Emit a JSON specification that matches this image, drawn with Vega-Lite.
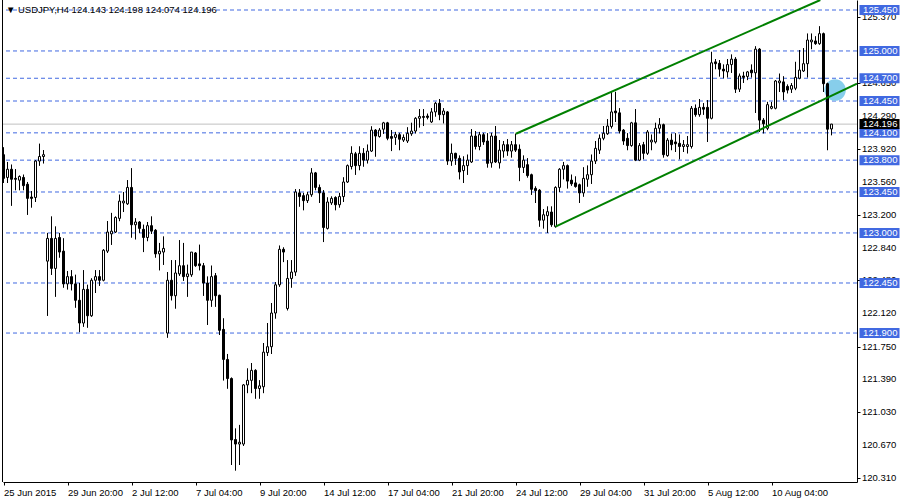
{
  "$schema": "https://vega.github.io/schema/vega-lite/v6.json",
  "width": 854,
  "height": 482,
  "autosize": {"type": "none"},
  "padding": {"left": 3, "top": 0, "right": 43, "bottom": 18},
  "background": "white",
  "config": {
    "view": {"stroke": null},
    "scale": {"continuousPadding": 0},
    "axis": {
      "labelFont": "Liberation Sans", "labelFontSize": 9.5, "labelColor": "black",
      "tickColor": "black", "domainColor": "black", "domainWidth": 1, "tickWidth": 1,
      "grid": false, "title": null, "labelOverlap": false, "labelFlush": false
    }
  },
  "datasets": {
    "candles": [
      {"bar":0,"open":123.86,"high":123.94,"low":123.55,"close":123.60},
      {"bar":1,"open":123.61,"high":123.78,"low":123.55,"close":123.70},
      {"bar":2,"open":123.70,"high":123.75,"low":123.30,"close":123.59},
      {"bar":3,"open":123.60,"high":123.70,"low":123.47,"close":123.59},
      {"bar":4,"open":123.58,"high":123.63,"low":123.47,"close":123.62},
      {"bar":5,"open":123.61,"high":123.64,"low":123.47,"close":123.52},
      {"bar":6,"open":123.535,"high":123.56,"low":123.20,"close":123.38},
      {"bar":7,"open":123.395,"high":123.46,"low":123.28,"close":123.38},
      {"bar":8,"open":123.39,"high":123.80,"low":123.34,"close":123.79},
      {"bar":9,"open":123.79,"high":123.98,"low":123.74,"close":123.84},
      {"bar":10,"open":123.84,"high":123.91,"low":123.765,"close":123.86},
      {"bar":11,"open":122.69,"high":123.00,"low":122.09,"close":122.94},
      {"bar":12,"open":122.94,"high":123.18,"low":122.54,"close":122.61},
      {"bar":13,"open":122.61,"high":123.07,"low":122.30,"close":122.94},
      {"bar":14,"open":122.95,"high":123.00,"low":122.73,"close":122.79},
      {"bar":15,"open":122.80,"high":122.94,"low":122.40,"close":122.44},
      {"bar":16,"open":122.44,"high":122.58,"low":122.38,"close":122.52},
      {"bar":17,"open":122.52,"high":122.59,"low":122.37,"close":122.44},
      {"bar":18,"open":122.44,"high":122.54,"low":122.18,"close":122.26},
      {"bar":19,"open":122.26,"high":122.45,"low":121.91,"close":122.01},
      {"bar":20,"open":122.01,"high":122.59,"low":121.97,"close":122.38},
      {"bar":21,"open":122.38,"high":122.43,"low":121.96,"close":122.09},
      {"bar":22,"open":122.09,"high":122.50,"low":122.08,"close":122.48},
      {"bar":23,"open":122.48,"high":122.59,"low":122.34,"close":122.52},
      {"bar":24,"open":122.52,"high":122.59,"low":122.42,"close":122.48},
      {"bar":25,"open":122.48,"high":122.82,"low":122.47,"close":122.81},
      {"bar":26,"open":122.80,"high":123.13,"low":122.78,"close":123.01},
      {"bar":27,"open":122.99,"high":123.22,"low":122.87,"close":123.02},
      {"bar":28,"open":123.01,"high":123.18,"low":123.00,"close":123.17},
      {"bar":29,"open":123.16,"high":123.42,"low":123.13,"close":123.35},
      {"bar":30,"open":123.33,"high":123.45,"low":123.23,"close":123.35},
      {"bar":31,"open":123.32,"high":123.58,"low":123.31,"close":123.50},
      {"bar":32,"open":123.50,"high":123.71,"low":122.95,"close":123.09},
      {"bar":33,"open":123.09,"high":123.16,"low":122.93,"close":123.12},
      {"bar":34,"open":123.12,"high":123.13,"low":123.00,"close":123.05},
      {"bar":35,"open":123.04,"high":123.09,"low":122.79,"close":122.95},
      {"bar":36,"open":122.95,"high":123.12,"low":122.91,"close":123.08},
      {"bar":37,"open":123.08,"high":123.18,"low":122.99,"close":123.02},
      {"bar":38,"open":123.03,"high":123.04,"low":122.73,"close":122.77},
      {"bar":39,"open":122.77,"high":122.89,"low":122.59,"close":122.80},
      {"bar":40,"open":122.79,"high":122.96,"low":122.65,"close":122.83},
      {"bar":41,"open":121.90,"high":122.57,"low":121.85,"close":122.48},
      {"bar":42,"open":122.48,"high":122.70,"low":122.26,"close":122.31},
      {"bar":43,"open":122.31,"high":122.70,"low":122.17,"close":122.56},
      {"bar":44,"open":122.55,"high":122.92,"low":122.53,"close":122.64},
      {"bar":45,"open":122.64,"high":122.89,"low":122.475,"close":122.52},
      {"bar":46,"open":122.52,"high":122.65,"low":122.30,"close":122.55},
      {"bar":47,"open":122.54,"high":122.79,"low":122.52,"close":122.79},
      {"bar":48,"open":122.78,"high":122.79,"low":122.63,"close":122.64},
      {"bar":49,"open":122.66,"high":122.87,"low":122.59,"close":122.64},
      {"bar":50,"open":122.64,"high":122.67,"low":122.31,"close":122.45},
      {"bar":51,"open":122.45,"high":122.52,"low":121.99,"close":122.26},
      {"bar":52,"open":122.26,"high":122.64,"low":122.19,"close":122.52},
      {"bar":53,"open":122.53,"high":122.56,"low":122.19,"close":122.31},
      {"bar":54,"open":122.315,"high":122.32,"low":121.88,"close":121.93},
      {"bar":55,"open":121.94,"high":122.06,"low":121.38,"close":121.61},
      {"bar":56,"open":121.61,"high":121.67,"low":121.29,"close":121.40},
      {"bar":57,"open":121.40,"high":121.41,"low":120.45,"close":120.725},
      {"bar":58,"open":120.73,"high":120.85,"low":120.39,"close":120.68},
      {"bar":59,"open":120.68,"high":120.89,"low":120.45,"close":120.70},
      {"bar":60,"open":120.68,"high":121.34,"low":120.66,"close":121.33},
      {"bar":61,"open":121.33,"high":121.51,"low":121.24,"close":121.38},
      {"bar":62,"open":121.38,"high":121.57,"low":121.24,"close":121.49},
      {"bar":63,"open":121.49,"high":121.50,"low":121.18,"close":121.29},
      {"bar":64,"open":121.29,"high":121.38,"low":121.18,"close":121.32},
      {"bar":65,"open":121.31,"high":121.79,"low":121.24,"close":121.69},
      {"bar":66,"open":121.685,"high":122.01,"low":121.65,"close":121.75},
      {"bar":67,"open":121.75,"high":122.23,"low":121.67,"close":122.12},
      {"bar":68,"open":122.12,"high":122.46,"low":122.06,"close":122.43},
      {"bar":69,"open":122.43,"high":122.86,"low":122.41,"close":122.82},
      {"bar":70,"open":122.82,"high":122.84,"low":122.68,"close":122.79},
      {"bar":71,"open":122.17,"high":122.70,"low":122.15,"close":122.50},
      {"bar":72,"open":122.50,"high":122.70,"low":122.40,"close":122.57},
      {"bar":73,"open":122.57,"high":123.48,"low":122.53,"close":123.45},
      {"bar":74,"open":123.44,"high":123.48,"low":123.29,"close":123.40},
      {"bar":75,"open":123.41,"high":123.44,"low":123.25,"close":123.355},
      {"bar":76,"open":123.355,"high":123.45,"low":123.33,"close":123.42},
      {"bar":77,"open":123.42,"high":123.71,"low":123.40,"close":123.66},
      {"bar":78,"open":123.66,"high":123.67,"low":123.47,"close":123.50},
      {"bar":79,"open":123.50,"high":123.53,"low":123.33,"close":123.44},
      {"bar":80,"open":123.44,"high":123.47,"low":122.90,"close":123.06},
      {"bar":81,"open":123.05,"high":123.39,"low":123.04,"close":123.34},
      {"bar":82,"open":123.33,"high":123.40,"low":123.31,"close":123.38},
      {"bar":83,"open":123.39,"high":123.40,"low":123.25,"close":123.31},
      {"bar":84,"open":123.31,"high":123.44,"low":123.28,"close":123.40},
      {"bar":85,"open":123.40,"high":123.61,"low":123.34,"close":123.56},
      {"bar":86,"open":123.56,"high":123.75,"low":123.55,"close":123.74},
      {"bar":87,"open":123.73,"high":123.95,"low":123.70,"close":123.875},
      {"bar":88,"open":123.87,"high":123.89,"low":123.64,"close":123.74},
      {"bar":89,"open":123.74,"high":123.95,"low":123.69,"close":123.875},
      {"bar":90,"open":123.875,"high":123.93,"low":123.73,"close":123.80},
      {"bar":91,"open":123.80,"high":123.97,"low":123.765,"close":123.90},
      {"bar":92,"open":123.90,"high":124.17,"low":123.89,"close":124.13},
      {"bar":93,"open":124.13,"high":124.14,"low":123.84,"close":124.065},
      {"bar":94,"open":124.06,"high":124.15,"low":124.05,"close":124.13},
      {"bar":95,"open":124.14,"high":124.22,"low":124.09,"close":124.21},
      {"bar":96,"open":124.21,"high":124.22,"low":124.02,"close":124.04},
      {"bar":97,"open":124.06,"high":124.13,"low":123.90,"close":124.04},
      {"bar":98,"open":124.05,"high":124.11,"low":123.97,"close":124.08},
      {"bar":99,"open":124.08,"high":124.10,"low":123.91,"close":124.03},
      {"bar":100,"open":124.02,"high":124.08,"low":124.00,"close":124.05},
      {"bar":101,"open":124.01,"high":124.16,"low":123.99,"close":124.095},
      {"bar":102,"open":124.09,"high":124.21,"low":124.07,"close":124.12},
      {"bar":103,"open":124.12,"high":124.27,"low":124.095,"close":124.26},
      {"bar":104,"open":124.26,"high":124.36,"low":124.16,"close":124.28},
      {"bar":105,"open":124.28,"high":124.36,"low":124.175,"close":124.27},
      {"bar":106,"open":124.285,"high":124.31,"low":124.25,"close":124.27},
      {"bar":107,"open":124.22,"high":124.37,"low":124.21,"close":124.33},
      {"bar":108,"open":124.33,"high":124.44,"low":124.28,"close":124.425},
      {"bar":109,"open":124.425,"high":124.47,"low":124.24,"close":124.30},
      {"bar":110,"open":124.30,"high":124.37,"low":124.205,"close":124.34},
      {"bar":111,"open":124.33,"high":124.34,"low":123.75,"close":123.79},
      {"bar":112,"open":123.79,"high":123.98,"low":123.74,"close":123.875},
      {"bar":113,"open":123.875,"high":123.88,"low":123.75,"close":123.82},
      {"bar":114,"open":123.82,"high":123.85,"low":123.59,"close":123.67},
      {"bar":115,"open":123.685,"high":123.84,"low":123.55,"close":123.74},
      {"bar":116,"open":123.74,"high":123.86,"low":123.64,"close":123.80},
      {"bar":117,"open":123.78,"high":124.14,"low":123.77,"close":124.065},
      {"bar":118,"open":124.065,"high":124.12,"low":123.92,"close":123.95},
      {"bar":119,"open":123.95,"high":124.11,"low":123.91,"close":124.08},
      {"bar":120,"open":124.08,"high":124.10,"low":123.97,"close":124.00},
      {"bar":121,"open":124.01,"high":124.095,"low":123.72,"close":123.765},
      {"bar":122,"open":123.77,"high":124.10,"low":123.72,"close":124.065},
      {"bar":123,"open":124.065,"high":124.175,"low":123.77,"close":123.78},
      {"bar":124,"open":123.77,"high":124.02,"low":123.71,"close":123.91},
      {"bar":125,"open":123.90,"high":124.01,"low":123.83,"close":123.97},
      {"bar":126,"open":123.97,"high":124.03,"low":123.85,"close":123.90},
      {"bar":127,"open":123.90,"high":124.01,"low":123.83,"close":123.97},
      {"bar":128,"open":123.97,"high":124.09,"low":123.89,"close":123.91},
      {"bar":129,"open":123.92,"high":123.97,"low":123.57,"close":123.72},
      {"bar":130,"open":123.72,"high":123.85,"low":123.66,"close":123.80},
      {"bar":131,"open":123.75,"high":123.82,"low":123.61,"close":123.63},
      {"bar":132,"open":123.64,"high":123.65,"low":123.42,"close":123.48},
      {"bar":133,"open":123.49,"high":123.51,"low":123.33,"close":123.465},
      {"bar":134,"open":123.47,"high":123.48,"low":123.07,"close":123.14},
      {"bar":135,"open":123.14,"high":123.26,"low":123.05,"close":123.20},
      {"bar":136,"open":123.19,"high":123.29,"low":123.00,"close":123.234},
      {"bar":137,"open":123.23,"high":123.29,"low":123.07,"close":123.09},
      {"bar":138,"open":123.07,"high":123.51,"low":123.06,"close":123.50},
      {"bar":139,"open":123.50,"high":123.71,"low":123.45,"close":123.70},
      {"bar":140,"open":123.70,"high":123.78,"low":123.59,"close":123.74},
      {"bar":141,"open":123.74,"high":123.75,"low":123.49,"close":123.57},
      {"bar":142,"open":123.58,"high":123.64,"low":123.52,"close":123.54},
      {"bar":143,"open":123.55,"high":123.62,"low":123.50,"close":123.51},
      {"bar":144,"open":123.53,"high":123.54,"low":123.33,"close":123.44},
      {"bar":145,"open":123.44,"high":123.72,"low":123.40,"close":123.60},
      {"bar":146,"open":123.59,"high":123.74,"low":123.51,"close":123.64},
      {"bar":147,"open":123.64,"high":123.86,"low":123.54,"close":123.79},
      {"bar":148,"open":123.79,"high":124.01,"low":123.76,"close":123.93},
      {"bar":149,"open":123.91,"high":124.08,"low":123.87,"close":124.04},
      {"bar":150,"open":124.04,"high":124.175,"low":124.02,"close":124.095},
      {"bar":151,"open":124.09,"high":124.25,"low":124.08,"close":124.175},
      {"bar":152,"open":124.17,"high":124.55,"low":124.15,"close":124.33},
      {"bar":153,"open":124.34,"high":124.55,"low":124.22,"close":124.32},
      {"bar":154,"open":124.32,"high":124.37,"low":124.095,"close":124.12},
      {"bar":155,"open":124.13,"high":124.14,"low":123.97,"close":124.01},
      {"bar":156,"open":124.04,"high":124.095,"low":123.91,"close":123.96},
      {"bar":157,"open":123.96,"high":124.22,"low":123.95,"close":124.21},
      {"bar":158,"open":124.21,"high":124.36,"low":123.79,"close":123.80},
      {"bar":159,"open":123.80,"high":123.985,"low":123.79,"close":123.96},
      {"bar":160,"open":123.97,"high":124.00,"low":123.81,"close":123.875},
      {"bar":161,"open":123.875,"high":124.13,"low":123.86,"close":124.11},
      {"bar":162,"open":124.00,"high":124.08,"low":123.91,"close":124.02},
      {"bar":163,"open":124.00,"high":124.21,"low":123.985,"close":124.15},
      {"bar":164,"open":124.15,"high":124.26,"low":124.095,"close":124.19},
      {"bar":165,"open":124.19,"high":124.20,"low":123.83,"close":123.86},
      {"bar":166,"open":123.85,"high":124.04,"low":123.84,"close":124.02},
      {"bar":167,"open":124.02,"high":124.09,"low":123.91,"close":123.97},
      {"bar":168,"open":124.00,"high":124.095,"low":123.89,"close":123.98},
      {"bar":169,"open":123.985,"high":124.08,"low":123.81,"close":123.95},
      {"bar":170,"open":123.95,"high":124.02,"low":123.89,"close":123.97},
      {"bar":171,"open":123.95,"high":124.065,"low":123.875,"close":123.97},
      {"bar":172,"open":123.95,"high":124.395,"low":123.93,"close":124.37},
      {"bar":173,"open":124.37,"high":124.41,"low":124.28,"close":124.30},
      {"bar":174,"open":124.30,"high":124.47,"low":124.28,"close":124.38},
      {"bar":175,"open":124.38,"high":124.425,"low":124.30,"close":124.36},
      {"bar":176,"open":124.38,"high":124.46,"low":124.00,"close":124.26},
      {"bar":177,"open":124.26,"high":124.99,"low":124.25,"close":124.87},
      {"bar":178,"open":124.88,"high":124.91,"low":124.80,"close":124.86},
      {"bar":179,"open":124.864,"high":124.90,"low":124.72,"close":124.80},
      {"bar":180,"open":124.80,"high":124.85,"low":124.70,"close":124.78},
      {"bar":181,"open":124.77,"high":124.91,"low":124.71,"close":124.85},
      {"bar":182,"open":124.85,"high":124.96,"low":124.76,"close":124.91},
      {"bar":183,"open":124.91,"high":124.93,"low":124.54,"close":124.58},
      {"bar":184,"open":124.58,"high":124.75,"low":124.55,"close":124.725},
      {"bar":185,"open":124.725,"high":124.77,"low":124.65,"close":124.71},
      {"bar":186,"open":124.72,"high":124.78,"low":124.68,"close":124.77},
      {"bar":187,"open":124.79,"high":124.85,"low":124.71,"close":124.76},
      {"bar":188,"open":124.76,"high":125.05,"low":124.32,"close":125.02},
      {"bar":189,"open":125.02,"high":125.03,"low":124.11,"close":124.24},
      {"bar":190,"open":124.24,"high":124.26,"low":124.095,"close":124.20},
      {"bar":191,"open":124.15,"high":124.44,"low":124.13,"close":124.41},
      {"bar":192,"open":124.37,"high":124.44,"low":124.36,"close":124.39},
      {"bar":193,"open":124.37,"high":124.68,"low":124.36,"close":124.67},
      {"bar":194,"open":124.65,"high":124.75,"low":124.55,"close":124.67},
      {"bar":195,"open":124.66,"high":124.72,"low":124.46,"close":124.55},
      {"bar":196,"open":124.61,"high":124.63,"low":124.535,"close":124.57},
      {"bar":197,"open":124.58,"high":124.645,"low":124.54,"close":124.62},
      {"bar":198,"open":124.59,"high":124.88,"low":124.57,"close":124.71},
      {"bar":199,"open":124.70,"high":125.01,"low":124.69,"close":124.79},
      {"bar":200,"open":124.78,"high":125.03,"low":124.77,"close":124.86},
      {"bar":201,"open":124.86,"high":125.19,"low":124.71,"close":125.12},
      {"bar":202,"open":125.10,"high":125.19,"low":125.02,"close":125.12},
      {"bar":203,"open":125.11,"high":125.16,"low":125.07,"close":125.08},
      {"bar":204,"open":125.08,"high":125.27,"low":125.07,"close":125.19},
      {"bar":205,"open":125.19,"high":125.20,"low":124.55,"close":124.64},
      {"bar":206,"open":124.64,"high":124.65,"low":123.91,"close":124.14},
      {"bar":207,"open":124.143,"high":124.198,"low":124.074,"close":124.196}
    ],
    "ticks": [
      {"price":120.31,"label":"120.310"},
      {"price":120.67,"label":"120.670"},
      {"price":121.03,"label":"121.030"},
      {"price":121.39,"label":"121.390"},
      {"price":121.75,"label":"121.750"},
      {"price":122.12,"label":"122.120"},
      {"price":122.48,"label":"122.480"},
      {"price":122.84,"label":"122.840"},
      {"price":123.2,"label":"123.200"},
      {"price":123.56,"label":"123.560"},
      {"price":123.92,"label":"123.920"},
      {"price":124.29,"label":"124.290"},
      {"price":124.65,"label":"124.650"},
      {"price":125.01,"label":"125.010"},
      {"price":125.37,"label":"125.370"}
    ],
    "levels": [
      {"level":125.45,"label":"125.450"},
      {"level":125.0,"label":"125.000"},
      {"level":124.7,"label":"124.700"},
      {"level":124.45,"label":"124.450"},
      {"level":124.1,"label":"124.100"},
      {"level":123.8,"label":"123.800"},
      {"level":123.45,"label":"123.450"},
      {"level":123.0,"label":"123.000"},
      {"level":122.45,"label":"122.450"},
      {"level":121.9,"label":"121.900"}
    ],
    "current": [{"level":124.196,"label":"124.196"}],
    "channel": [
      {"line":"upper","bar":128.1,"price":124.09},
      {"line":"upper","bar":204.2,"price":125.56},
      {"line":"lower","bar":138.0,"price":123.07},
      {"line":"lower","bar":213.375,"price":124.64}
    ],
    "marker": [{"bar":207.9,"price":124.57}],
    "header": [{"text":"▼ USDJPY,H4  124.143 124.198 124.074 124.196"}]
  },
  "layer": [
    {
      "data": {"name": "candles"},
      "mark": {"type": "rule", "color": "black", "strokeWidth": 1},
      "encoding": {
        "x": {
          "field": "bar", "type": "quantitative",
          "scale": {"domain": [-0.125, 213.375], "nice": false, "zero": false, "padding": 0},
          "axis": {
            "title": null, "orient": "bottom", "zindex": 0,
            "values": [0, 16, 32, 48, 64, 80, 96, 112, 128, 144, 160, 176, 192],
            "labelExpr": "['25 Jun 2015','29 Jun 20:00','2 Jul 12:00','7 Jul 04:00','9 Jul 20:00','14 Jul 12:00','17 Jul 04:00','21 Jul 20:00','24 Jul 12:00','29 Jul 04:00','31 Jul 20:00','5 Aug 12:00','10 Aug 04:00'][round(datum.value / 16)]",
            "labelAlign": "left", "labelBaseline": "top", "labelPadding": 2,
            "labelOverlap": false, "labelFlush": false, "labelBound": false,
            "tickSize": 3
          }
        },
        "y": {
          "field": "low", "type": "quantitative",
          "scale": {"domain": [120.263, 125.56], "nice": false, "zero": false, "padding": 0},
          "axis": {
            "title": null, "orient": "right", "zindex": 0,
            "values": [120.31, 120.67, 121.03, 121.39, 121.75, 122.12, 122.48, 122.84, 123.2, 123.56, 123.92, 124.29, 124.65, 125.01, 125.37],
            "labels": false,
            "tickSize": 3
          }
        },
        "y2": {"field": "high"}
      }
    },
    {
      "data": {"name": "levels"},
      "mark": {"type": "rule", "color": "#4169E1", "strokeWidth": 1, "strokeDash": [4, 3]},
      "encoding": {
        "y": {"field": "level", "type": "quantitative", "axis": {"title": null}}
      }
    },
    {
      "data": {"name": "current"},
      "mark": {"type": "rule", "color": "#C0C0C0", "strokeWidth": 1},
      "encoding": {
        "y": {"field": "level", "type": "quantitative", "axis": {"title": null}}
      }
    },
    {
      "data": {"name": "marker"},
      "mark": {"type": "point", "shape": "circle", "filled": true, "size": 460, "color": "#87CEEB", "opacity": 1, "strokeWidth": 0},
      "encoding": {
        "x": {"field": "bar", "type": "quantitative", "axis": {"title": null}},
        "y": {"field": "price", "type": "quantitative", "axis": {"title": null}}
      }
    },
    {
      "data": {"name": "candles"},
      "mark": {"type": "rule", "color": "black", "strokeWidth": 1},
      "encoding": {
        "x": {"field": "bar", "type": "quantitative", "axis": {"title": null}},
        "y": {"field": "low", "type": "quantitative", "axis": {"title": null}},
        "y2": {"field": "high"}
      }
    },
    {
      "data": {"name": "candles"},
      "mark": {"type": "bar", "width": 2, "stroke": "black", "strokeWidth": 1},
      "encoding": {
        "x": {"field": "bar", "type": "quantitative", "axis": {"title": null}},
        "y": {"field": "open", "type": "quantitative", "axis": {"title": null}},
        "y2": {"field": "close"},
        "fill": {"condition": {"test": "datum.close >= datum.open", "value": "white"}, "value": "black"}
      }
    },
    {
      "data": {"name": "channel"},
      "mark": {"type": "line", "color": "#008000", "strokeWidth": 2, "clip": true},
      "encoding": {
        "x": {"field": "bar", "type": "quantitative", "axis": {"title": null}},
        "y": {"field": "price", "type": "quantitative", "axis": {"title": null}},
        "detail": {"field": "line"}
      }
    },
    {
      "data": {"values": [{}]},
      "mark": {"type": "rule", "color": "black", "strokeWidth": 1, "clip": false},
      "encoding": {
        "x": {"datum": -0.25, "type": "quantitative", "axis": {"title": null}}
      }
    },
    {
      "data": {"name": "ticks"},
      "mark": {"type": "text", "align": "left", "baseline": "middle", "color": "black", "font": "Liberation Sans", "fontSize": 9.5, "clip": false},
      "encoding": {
        "x": {"datum": 214.625, "type": "quantitative", "axis": {"title": null}},
        "y": {"field": "price", "type": "quantitative", "axis": {"title": null}},
        "text": {"field": "label"}
      }
    },
    {
      "data": {"name": "levels"},
      "mark": {"type": "point", "shape": "M-1,-0.25L1,-0.25L1,0.25L-1,0.25Z", "filled": true, "size": 1600, "color": "#4169E1", "opacity": 1, "strokeWidth": 0, "clip": false},
      "encoding": {
        "x": {"datum": 219.0, "type": "quantitative", "axis": {"title": null}},
        "y": {"field": "level", "type": "quantitative", "axis": {"title": null}}
      }
    },
    {
      "data": {"name": "current"},
      "mark": {"type": "point", "shape": "M-1,-0.25L1,-0.25L1,0.25L-1,0.25Z", "filled": true, "size": 1600, "color": "black", "opacity": 1, "strokeWidth": 0, "clip": false},
      "encoding": {
        "x": {"datum": 219.0, "type": "quantitative", "axis": {"title": null}},
        "y": {"field": "level", "type": "quantitative", "axis": {"title": null}}
      }
    },
    {
      "data": {"name": "levels"},
      "mark": {"type": "text", "align": "left", "baseline": "middle", "color": "white", "font": "Liberation Sans", "fontSize": 9.5, "clip": false},
      "encoding": {
        "x": {"datum": 214.9, "type": "quantitative", "axis": {"title": null}},
        "y": {"field": "level", "type": "quantitative", "axis": {"title": null}},
        "text": {"field": "label"}
      }
    },
    {
      "data": {"name": "current"},
      "mark": {"type": "text", "align": "left", "baseline": "middle", "color": "white", "font": "Liberation Sans", "fontSize": 9.5, "clip": false},
      "encoding": {
        "x": {"datum": 214.9, "type": "quantitative", "axis": {"title": null}},
        "y": {"field": "level", "type": "quantitative", "axis": {"title": null}},
        "text": {"field": "label"}
      }
    },
    {
      "data": {"name": "header"},
      "mark": {"type": "text", "align": "left", "baseline": "middle", "color": "black", "font": "Liberation Sans", "fontSize": 9.5, "clip": false},
      "encoding": {
        "x": {"datum": 0.6, "type": "quantitative", "axis": {"title": null}},
        "y": {"datum": 125.445, "type": "quantitative", "axis": {"title": null}},
        "text": {"field": "text"}
      }
    }
  ]
}
